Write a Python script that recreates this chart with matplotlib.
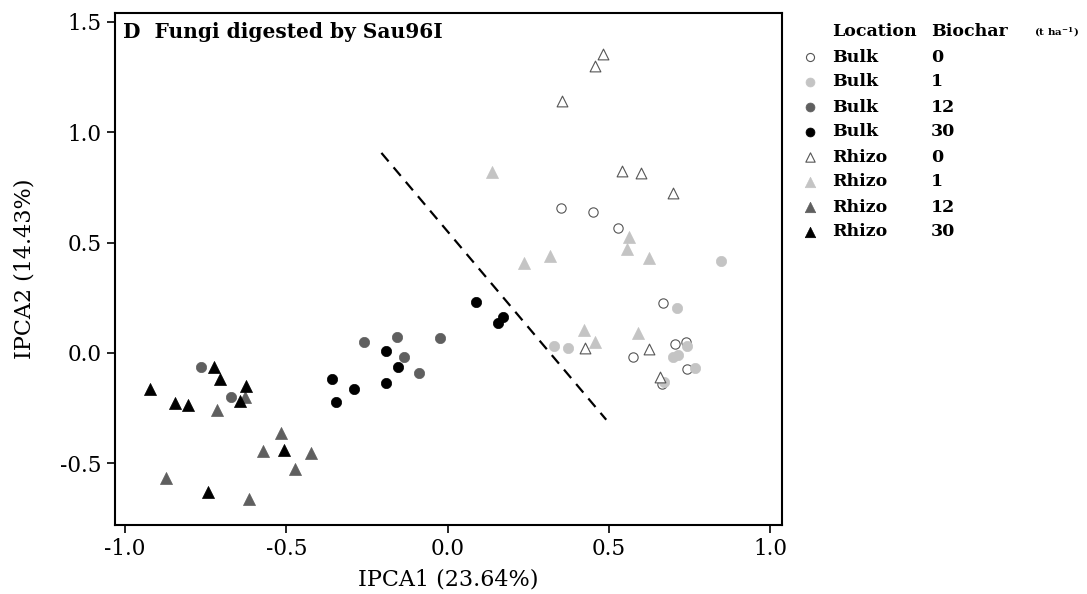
import numpy as np
import matplotlib
matplotlib.use("Agg")
from matplotlib import pyplot as plt

# PCA scores, one group per location x biochar rate
locations = ["Bulk", "Bulk", "Bulk", "Bulk", "Rhizo", "Rhizo", "Rhizo", "Rhizo"]
biochar = ["0", "1", "12", "30", "0", "1", "12", "30"]

bulk0_x = [0.353, 0.451, 0.528, 0.668, 0.705, 0.740, 0.575, 0.744, 0.664]
bulk0_y = [0.658, 0.638, 0.567, 0.228, 0.038, 0.047, -0.017, -0.072, -0.142]
bulk1_x = [0.849, 0.712, 0.330, 0.375, 0.741, 0.698, 0.716, 0.766, 0.672]
bulk1_y = [0.418, 0.204, 0.033, 0.023, 0.029, -0.017, -0.012, -0.068, -0.131]
bulk12_x = [-0.763, -0.672, -0.259, -0.157, -0.023, -0.136, -0.089]
bulk12_y = [-0.066, -0.198, 0.047, 0.072, 0.068, -0.017, -0.092]
bulk30_x = [-0.192, -0.153, -0.358, -0.290, -0.192, -0.347, 0.088, 0.171, 0.158]
bulk30_y = [0.008, -0.062, -0.118, -0.163, -0.137, -0.223, 0.232, 0.164, 0.134]
rhizo0_x = [0.481, 0.458, 0.354, 0.541, 0.601, 0.700, 0.427, 0.624, 0.658]
rhizo0_y = [1.352, 1.300, 1.140, 0.824, 0.816, 0.725, 0.023, 0.018, -0.110]
rhizo1_x = [0.137, 0.563, 0.557, 0.624, 0.236, 0.318, 0.423, 0.456, 0.592]
rhizo1_y = [0.818, 0.524, 0.472, 0.428, 0.409, 0.439, 0.103, 0.048, 0.089]
rhizo12_x = [-0.628, -0.714, -0.516, -0.573, -0.424, -0.473, -0.872, -0.614]
rhizo12_y = [-0.200, -0.261, -0.361, -0.447, -0.456, -0.526, -0.566, -0.661]
rhizo30_x = [-0.923, -0.723, -0.706, -0.844, -0.806, -0.625, -0.642, -0.506, -0.744]
rhizo30_y = [-0.163, -0.062, -0.118, -0.228, -0.237, -0.152, -0.217, -0.439, -0.630]

group_x = [bulk0_x, bulk1_x, bulk12_x, bulk30_x, rhizo0_x, rhizo1_x, rhizo12_x, rhizo30_x]
group_y = [bulk0_y, bulk1_y, bulk12_y, bulk30_y, rhizo0_y, rhizo1_y, rhizo12_y, rhizo30_y]

# separating line
line_x = [-0.205, 0.492]
line_y = [0.906, -0.303]

fills = ["white", "#c4c4c4", "#5f5f5f", "black"] * 2
edges = ["#555555", "#c4c4c4", "#5f5f5f", "black"] * 2
markers = ["o"] * 4 + ["^"] * 4
sizes = [45, 55, 55, 55, 60, 75, 75, 75]
widths = [0.8, 0.5, 0.5, 0.5, 0.8, 0.5, 0.5, 0.5]

plt.rcParams["font.family"] = ["DejaVu Serif"]
plt.rcParams["mathtext.fontset"] = "dejavuserif"
plt.rcParams["axes.unicode_minus"] = False

fig = plt.figure(figsize=(10.87, 5.94), dpi=100)
ax = fig.add_axes([0.1058, 0.1162, 0.6136, 0.8619])

for gx, gy, fc, ec, m, s, lw in zip(group_x, group_y, fills, edges, markers, sizes, widths):
    ax.scatter(gx, gy, s=s, marker=m, facecolors=fc, edgecolors=ec, linewidths=lw, zorder=3)

ax.plot(line_x, line_y, color="black", linestyle=(0, (5, 3.5)), linewidth=1.6, zorder=2)

ax.set_xlim(-1.031, 1.037)
ax.set_ylim(-0.78, 1.54)
ax.set_xticks([-1.0, -0.5, 0.0, 0.5, 1.0])
ax.set_yticks([-0.5, 0.0, 0.5, 1.0, 1.5])
ax.xaxis.set_major_formatter(matplotlib.ticker.FormatStrFormatter("%.1f"))
ax.yaxis.set_major_formatter(matplotlib.ticker.FormatStrFormatter("%.1f"))
ax.tick_params(direction="out", length=6, width=1.2, labelsize=15.5, colors="black")
for sp in ax.spines.values():
    sp.set_linewidth(1.5)
ax.set_xlabel("IPCA1 (23.64%)", fontsize=16, labelpad=6)
ax.set_ylabel("IPCA2 (14.43%)", fontsize=16, labelpad=18)
ax.text(0.012, 0.982, "D  Fungi digested by Sau96I", transform=ax.transAxes,
        ha="left", va="top", fontsize=14.5, fontweight="bold")

# legend drawn in pixel coordinates of the figure
lg = fig.add_axes([0, 0, 1, 1])
lg.set_xlim(0, 1087)
lg.set_ylim(594, 0)
lg.axis("off")
lg.text(832, 32, "Location", fontsize=12.5, fontweight="bold", va="center")
lg.text(931, 32, "Biochar", fontsize=12.5, fontweight="bold", va="center")
lg.text(1034, 32, "(t ha$^{\\mathbf{-1}}$)", fontsize=7.5, fontweight="bold", va="center")
for i, (loc, rate) in enumerate(zip(locations, biochar)):
    yy = 57 + 25 * i
    lg.scatter([810], [yy], s=sizes[i] * 0.75, marker=markers[i], facecolors=fills[i],
               edgecolors=edges[i], linewidths=widths[i])
    lg.text(832, yy, loc, fontsize=12.5, fontweight="bold", va="center")
    lg.text(931, yy, rate, fontsize=12.5, fontweight="bold", va="center")

fig.savefig("out.png", dpi=100)
